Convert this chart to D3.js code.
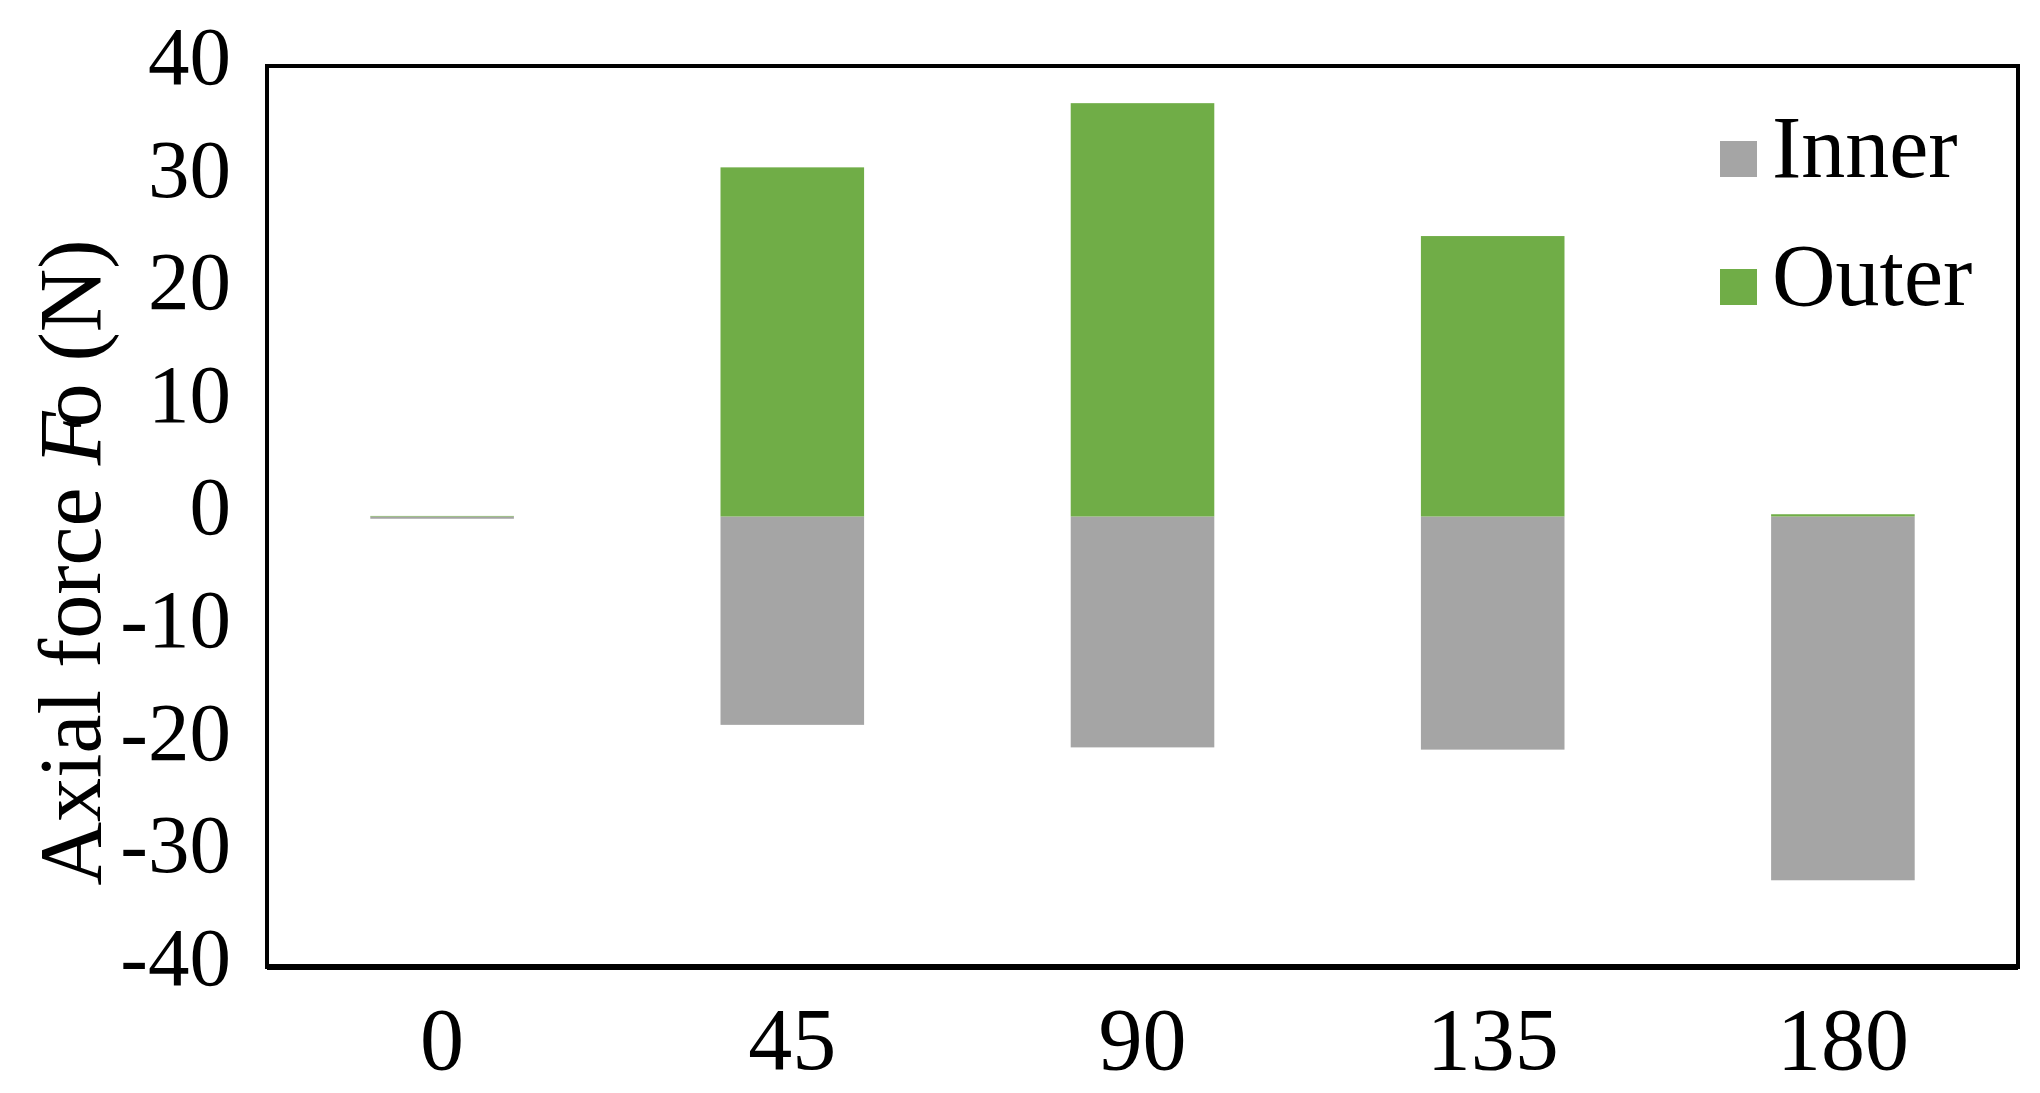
<!DOCTYPE html>
<html>
<head>
<meta charset="utf-8">
<script src="https://cdn.jsdelivr.net/npm/d3@7"></script>
<style>
  body { margin: 0; background: #fff; }
  text { font-family: 'Liberation Serif', 'Times New Roman', serif; fill: #000; }
</style>
</head>
<body>
<svg id="chart" width="2040" height="1093"></svg>
<script>
// angles on the x axis
const angles = ['0', '45', '90', '135', '180'];
// series values (N)
const innerValues = [-0.2, -18.5, -20.5, -20.7, -32.3];
const outerValues = [0.05, 31.0, 36.7, 24.9, 0.2];
const yTicks = [40, 30, 20, 10, 0, -10, -20, -30, -40];
const seriesNames = ['Inner', 'Outer'];
const seriesColors = ['#a5a5a5', '#70ad47'];

const svg = d3.select('#chart');
const plotLeft = 267, plotRight = 2018, plotTop = 66, plotBottom = 967;

const xScale = d3.scaleBand()
    .domain(angles)
    .range([plotLeft, plotRight])
    .paddingInner(0.59)
    .paddingOuter(0.295);

const yScale = d3.scaleLinear()
    .domain([-40, 40])
    .range([plotBottom, plotTop]);

// build rows for the stack
const rows = angles.map((a, i) => ({ angle: a, Inner: innerValues[i], Outer: outerValues[i] }));
const stacked = d3.stack()
    .keys(seriesNames)
    .offset(d3.stackOffsetDiverging)(rows);

svg.append('g')
    .selectAll('g')
    .data(stacked)
    .join('g')
    .attr('fill', (d, i) => seriesColors[i])
    .selectAll('rect')
    .data(d => d)
    .join('rect')
    .attr('x', d => xScale(d.data.angle))
    .attr('width', xScale.bandwidth())
    .attr('y', d => yScale(Math.max(d[0], d[1])))
    .attr('height', d => Math.abs(yScale(d[0]) - yScale(d[1])));

// y axis labels, no tick marks; plain hyphen for negatives
const yAxis = d3.axisLeft(yScale)
    .tickValues(yTicks)
    .tickFormat(d => String(d))
    .tickSize(0)
    .tickPadding(36);
const yg = svg.append('g')
    .attr('transform', `translate(${plotLeft},0)`)
    .call(yAxis);
yg.select('.domain').remove();
yg.selectAll('text')
    .style('font-family', "'Liberation Serif', serif")
    .attr('font-size', 83)
    .attr('dy', '0.21em')
    .attr('fill', '#000');

// x axis labels
const xAxis = d3.axisBottom(xScale).tickSize(0).tickPadding(40);
const xg = svg.append('g')
    .attr('transform', `translate(0,${plotBottom})`)
    .call(xAxis);
xg.select('.domain').remove();
xg.selectAll('text')
    .style('font-family', "'Liberation Serif', serif")
    .attr('font-size', 88)
    .attr('fill', '#000');

// plot frame
svg.append('rect')
    .attr('x', plotLeft)
    .attr('y', plotTop)
    .attr('width', plotRight - plotLeft)
    .attr('height', plotBottom - plotTop)
    .attr('fill', 'none')
    .attr('stroke', '#000')
    .attr('stroke-width', 4);
svg.append('line')
    .attr('x1', plotLeft).attr('x2', plotRight)
    .attr('y1', plotBottom).attr('y2', plotBottom)
    .attr('stroke', '#000')
    .attr('stroke-width', 6);

// y axis title
const title = svg.append('text')
    .attr('transform', `translate(100,${(240 + 885) / 2}) rotate(-90)`)
    .attr('text-anchor', 'middle')
    .attr('font-size', 88);
title.append('tspan').text('Axial force ');
title.append('tspan').attr('font-style', 'italic').text('F');
title.append('tspan').attr('dx', -16).text('o');
title.append('tspan').text(' (N)');

// legend
const legend = svg.append('g')
    .selectAll('g')
    .data(seriesNames)
    .join('g')
    .attr('transform', (d, i) => `translate(1720,${177 + i * 128})`);
legend.append('rect')
    .attr('x', 0)
    .attr('y', -36)
    .attr('width', 37)
    .attr('height', 36)
    .attr('fill', (d, i) => seriesColors[i]);
legend.append('text')
    .attr('x', 52)
    .attr('y', 0)
    .attr('font-size', 88)
    .text(d => d);
</script>
</body>
</html>
